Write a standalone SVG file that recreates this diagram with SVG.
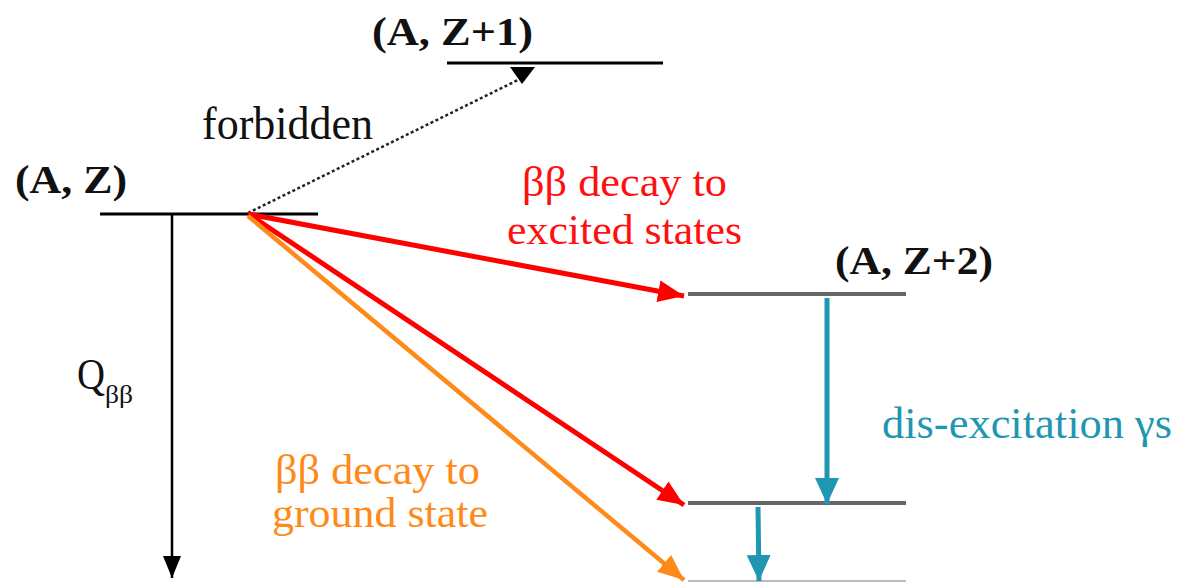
<svg xmlns="http://www.w3.org/2000/svg" width="1177" height="582" viewBox="0 0 1177 582">
<style>
text{font-family:"Liberation Serif","Times New Roman",serif}
.lab{font-weight:bold;font-size:40px;fill:#111}
.txt{font-size:42px}
.lvl{stroke:#000;stroke-width:3;fill:none}
.lvl2{stroke:#666;stroke-width:4;fill:none}
.red{stroke:#ff0000;stroke-width:5;fill:none}
.org{stroke:#ff8a1a;stroke-width:4.5;fill:none}
.teal{stroke:#1f97b3;stroke-width:5;fill:none}
</style>
<defs>
<marker id="hRed" markerUnits="userSpaceOnUse" markerWidth="26" markerHeight="22" refX="26" refY="11" orient="auto"><path d="M0,0 L26,11 L0,22 z" fill="#ff0000"/></marker>
<marker id="hOrg" markerUnits="userSpaceOnUse" markerWidth="26" markerHeight="22" refX="26" refY="11" orient="auto"><path d="M0,0 L26,11 L0,22 z" fill="#ff8a1a"/></marker>
<marker id="hTeal" markerUnits="userSpaceOnUse" markerWidth="26" markerHeight="24" refX="26" refY="12" orient="auto"><path d="M0,0 L26,12 L0,24 z" fill="#1f97b3"/></marker>
<marker id="hBlk" markerUnits="userSpaceOnUse" markerWidth="22" markerHeight="18" refX="22" refY="9" orient="auto"><path d="M0,0 L22,9 L0,18 z" fill="#000"/></marker>
</defs>
<rect width="1177" height="582" fill="#fff"/>
<g id="level-AZ1">
<line class="lvl" x1="447" y1="63" x2="663" y2="63"/>
<text class="lab" x="372" y="45" textLength="161" lengthAdjust="spacingAndGlyphs">(A, Z+1)</text>
</g>
<g id="level-AZ">
<line class="lvl" x1="100" y1="214" x2="318" y2="214"/>
<text class="lab" x="15" y="193" textLength="112" lengthAdjust="spacingAndGlyphs">(A, Z)</text>
</g>
<g id="level-AZ2-excited">
<line class="lvl2" x1="688" y1="294" x2="906" y2="294"/>
<text class="lab" x="835" y="274" textLength="158" lengthAdjust="spacingAndGlyphs">(A, Z+2)</text>
</g>
<g id="level-AZ2-mid">
<line class="lvl2" x1="688" y1="503" x2="906" y2="503"/>
</g>
<g id="level-AZ2-ground">
<line stroke="#bbb" stroke-width="2" x1="688" y1="581" x2="906" y2="581"/>
</g>
<g id="labels">
<text class="txt" x="202" y="139" style="font-size:46px" fill="#111" textLength="171" lengthAdjust="spacingAndGlyphs">forbidden</text>
<text class="txt" x="522" y="196" fill="#ff1010" textLength="205" lengthAdjust="spacingAndGlyphs">ββ decay to</text>
<text class="txt" x="507" y="244" fill="#ff1010" textLength="235" lengthAdjust="spacingAndGlyphs">excited states</text>
<text class="txt" x="275" y="484" fill="#ff8a1a" textLength="205" lengthAdjust="spacingAndGlyphs">ββ decay to</text>
<text class="txt" x="272" y="527" fill="#ff8a1a" textLength="216" lengthAdjust="spacingAndGlyphs">ground state</text>
<text class="txt" x="882" y="438" style="font-size:44px" fill="#1f97b3" textLength="290" lengthAdjust="spacingAndGlyphs">dis-excitation γs</text>
<text class="txt" x="77" y="389" style="font-size:44px" fill="#111" textLength="28" lengthAdjust="spacingAndGlyphs">Q</text>
<text class="txt" x="105" y="403" style="font-size:26px" fill="#111" textLength="28" lengthAdjust="spacingAndGlyphs">ββ</text>
</g>
<g id="connectors">
<line x1="248" y1="213" x2="522" y2="78" stroke="#222" stroke-width="2.5" stroke-dasharray="3,2.5"/>
<polygon points="510,67 535,67 522,84" fill="#000"/>
<line stroke="#000" stroke-width="2.5" x1="172" y1="214" x2="172" y2="578" marker-end="url(#hBlk)"/>
<line class="red" x1="248" y1="214" x2="684" y2="296" marker-end="url(#hRed)"/>
<line class="red" x1="250" y1="215" x2="684" y2="505" marker-end="url(#hRed)"/>
<line class="org" x1="248" y1="216" x2="684" y2="580" marker-end="url(#hOrg)"/>
<line class="teal" x1="827" y1="298" x2="827" y2="504" marker-end="url(#hTeal)"/>
<line class="teal" x1="758" y1="507" x2="759" y2="581" marker-end="url(#hTeal)"/>
</g>
</svg>
